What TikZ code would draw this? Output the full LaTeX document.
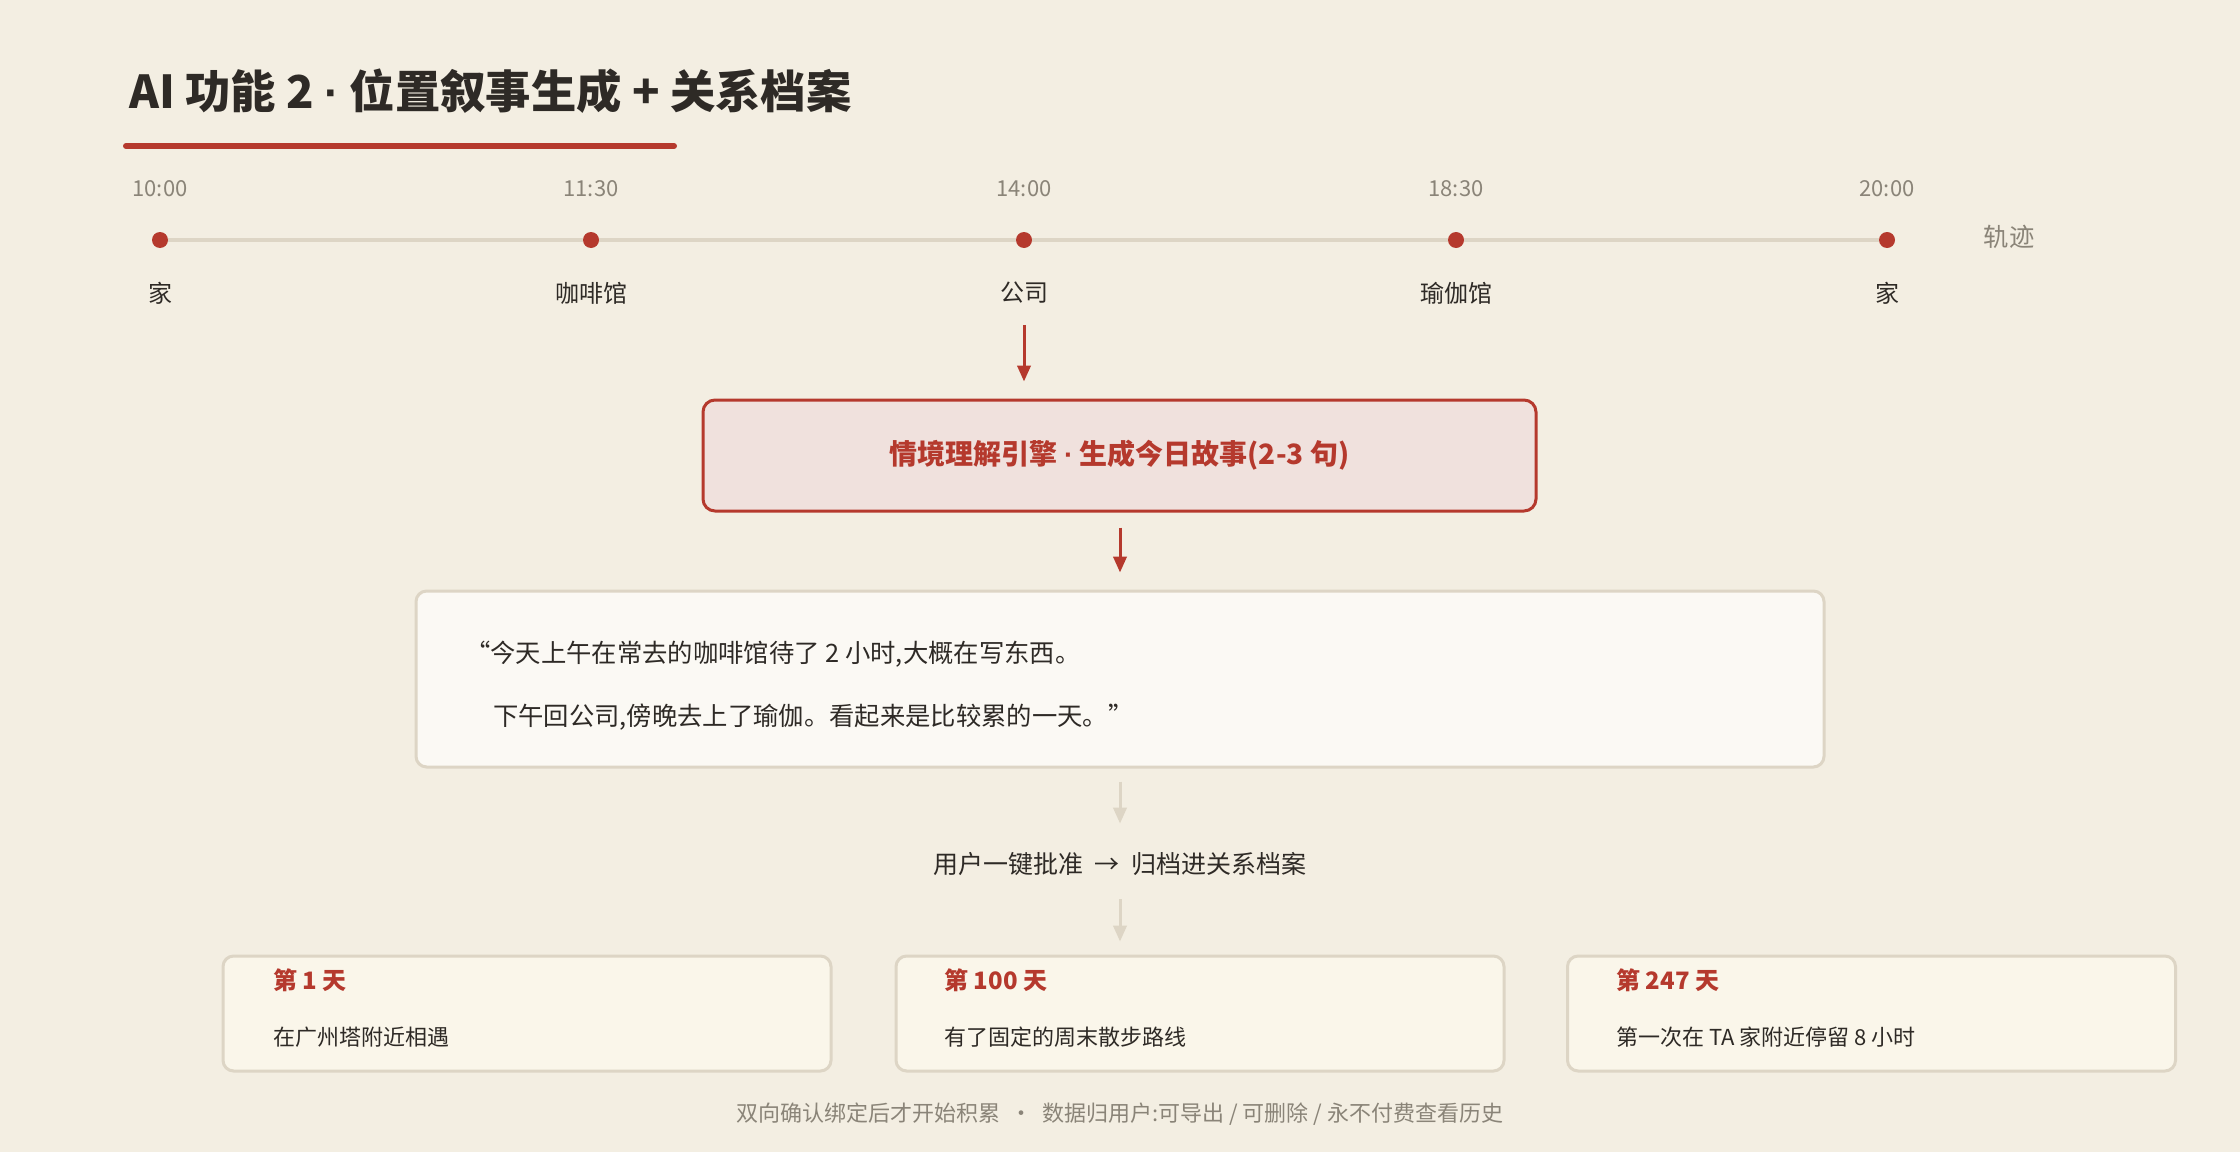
\documentclass[tikz,border=0pt]{standalone}
\usepackage{fontspec}
\setmainfont{Noto Sans CJK SC}
\newfontfamily\latinf{Liberation Sans}
\usetikzlibrary{arrows.meta}
\definecolor{bg}{HTML}{F3EEE2}
\definecolor{accent}{HTML}{B5392D}
\definecolor{ink}{HTML}{2E2A26}
\definecolor{muted}{HTML}{8A8478}
\definecolor{tan}{HTML}{DDD5C5}
\definecolor{pink}{HTML}{F0E1DD}
\definecolor{paper}{HTML}{FBF9F4}
\definecolor{cardfill}{HTML}{FAF6EA}
\newcommand{\fsz}[1]{\fontsize{#1}{1.2\dimexpr#1\relax}\selectfont}
\newcommand{\mdot}{{\latinf ·}}
\tikzset{
  txt/.style={inner sep=0pt, text=ink},
  dot/.style={circle, fill=accent, minimum size=16*0.75pt, inner sep=0pt},
  track/.style={draw=tan, line width=4*0.75pt},
  timel/.style={txt, text=muted, font=\fsz{16.5pt}},
  placel/.style={txt, font=\fsz{18pt}},
  engbox/.style={draw=accent, fill=pink, line width=2.25pt, rounded corners=9pt,
     minimum width=833*0.75pt, minimum height=111*0.75pt, text=accent, font=\bfseries\fsz{21pt}},
  quotebox/.style={draw=tan, fill=paper, line width=2.25pt, rounded corners=8pt,
     minimum width=1408*0.75pt, minimum height=176*0.75pt},
  cardbox/.style={draw=tan, fill=cardfill, line width=2.25pt, rounded corners=8pt,
     minimum width=608*0.75pt, minimum height=115*0.75pt},
  cardtitle/.style={txt, anchor=west, text=accent, font=\bfseries\fsz{18pt}},
  cardbody/.style={txt, anchor=west, font=\fsz{16.5pt}},
  redarrow/.style={draw=accent, line width=2.25pt, -{Triangle[length=12pt,width=10pt]}},
  tanarrow/.style={draw=tan, line width=2.25pt, -{Triangle[length=12pt,width=10pt]}},
}
\begin{document}
\begin{tikzpicture}[x=0.75pt,y=-0.75pt]
\fill[bg] (0,0) rectangle (2240,1152);
\useasboundingbox (0,0) rectangle (2240,1152);

% title
\node[txt, anchor=west, font=\bfseries\fsz{34pt}] (title) at (129,91) {AI 功能 2 \mdot{} 位置叙事生成 + 关系档案};
\coordinate (ul1) at (126,146);
\coordinate (ul2) at (674,146);
\draw[accent, line width=4.5pt, line cap=round] (ul1) -- (ul2);

% timeline
\node[dot] (d1) at (160,240) {};
\node[dot] (d2) at (591,240) {};
\node[dot] (d3) at (1024,240) {};
\node[dot] (d4) at (1456,240) {};
\node[dot] (d5) at (1887,240) {};
\draw[track] (d1) -- (d2);
\draw[track] (d2) -- (d3);
\draw[track] (d3) -- (d4);
\draw[track] (d4) -- (d5);

\node[timel] (t1) at (160,189) {10:00};
\node[timel] (t2) at (591,189) {11:30};
\node[timel] (t3) at (1024,189) {14:00};
\node[timel] (t4) at (1456,189) {18:30};
\node[timel] (t5) at (1887,189) {20:00};

\node[placel] (p1) at (160,293) {家};
\node[placel] (p2) at (591,293) {咖啡馆};
\node[placel] (p3) at (1024,293) {公司};
\node[placel] (p4) at (1456,293) {瑜伽馆};
\node[placel] (p5) at (1887,293) {家};

\node[txt, text=muted, font=\fsz{19pt}] (trk) at (2009,237) {轨迹};

% engine
\node[engbox] (eng) at (1119.5,455.5) {情境理解引擎 \mdot{} 生成今日故事(2-3 句)};
\draw[redarrow, shorten <=15.75pt, shorten >=12.75pt] (p3.south) -- (p3.south |- eng.north);

% quote
\node[quotebox] (quote) at (1120,679) {};
\node[txt, anchor=west, font=\fsz{19pt}] (q1) at (465,654) {“今天上午在常去的咖啡馆待了 2 小时,大概在写东西。};
\node[txt, anchor=west, font=\fsz{19pt}] (q2) at (493,717) {下午回公司,傍晚去上了瑜伽。看起来是比较累的一天。”};
\draw[redarrow, shorten <=11.25pt, shorten >=12.75pt] (eng.south -| quote.north) -- (quote.north);

% approval
\node[txt, font=\fsz{18.75pt}] (mid) at (1120,864) {用户一键批准\ \ →\ \ 归档进关系档案};
\draw[tanarrow, shorten <=9.75pt, shorten >=21.4pt] (quote.south) -- (mid.north);

% cards
\node[cardbox] (c1) at (527,1013.5) {};
\node[cardbox] (c2) at (1200,1013.5) {};
\node[cardbox] (c3) at (1871.5,1013.5) {};
\draw[tanarrow, shorten <=17.6pt, shorten >=9.75pt] (mid.south) -- (mid.south |- c2.north);

\node[cardtitle] (c1t) at (273,980) {第 1 天};
\node[cardbody] (c1b) at (273,1037) {在广州塔附近相遇};
\node[cardtitle] (c2t) at (944,980) {第 100 天};
\node[cardbody] (c2b) at (944,1037) {有了固定的周末散步路线};
\node[cardtitle] (c3t) at (1616,980) {第 247 天};
\node[cardbody] (c3b) at (1616,1037) {第一次在 TA 家附近停留 8 小时};

% footer
\node[txt, text=muted, font=\fsz{16.5pt}] (foot) at (1120,1114) {双向确认绑定后才开始积累 \ · \ 数据归用户:可导出 / 可删除 / 永不付费查看历史};
\end{tikzpicture}
\end{document}
